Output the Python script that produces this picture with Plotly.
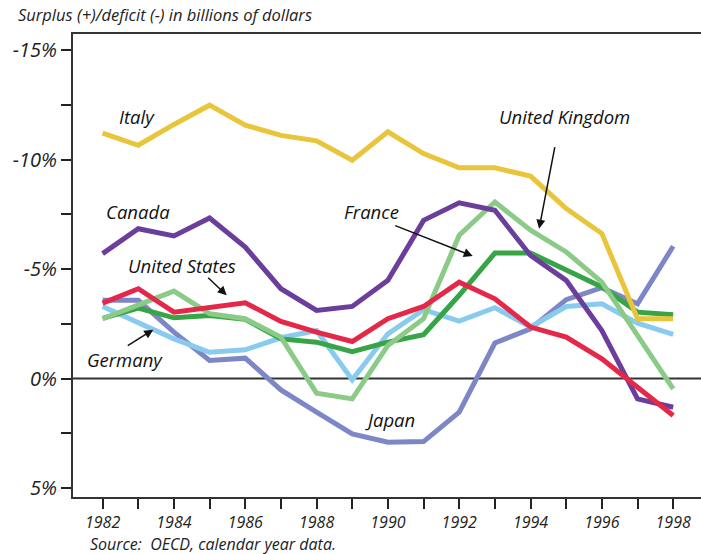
import plotly.graph_objects as go

years = list(range(1982, 1999))

italy   = [-11.2, -10.65, -11.6, -12.48, -11.57, -11.1, -10.85, -9.97, -11.26, -10.27, -9.62, -9.62, -9.24, -7.76, -6.62, -2.73, -2.73]
canada  = [-5.70, -6.84, -6.51, -7.33, -6.0, -4.10, -3.11, -3.29, -4.48, -7.22, -8.02, -7.68, -5.62, -4.48, -2.19, 0.93, 1.31]
usa     = [-3.44, -4.10, -3.03, -3.26, -3.46, -2.61, -2.12, -1.69, -2.73, -3.29, -4.40, -3.64, -2.35, -1.89, -0.90, 0.40, 1.69]
france  = [-2.75, -3.22, -2.77, -2.88, -2.70, -1.81, -1.66, -1.23, -1.66, -2.0, -3.80, -5.73, -5.73, -4.94, -4.18, -3.03, -2.91]
uk      = [-2.73, -3.37, -3.99, -2.96, -2.73, -1.89, 0.67, 0.93, -1.51, -2.73, -6.54, -8.06, -6.77, -5.78, -4.40, -1.97, 0.47]
germany = [-3.29, -2.58, -1.81, -1.20, -1.31, -1.86, -2.19, 0.06, -2.04, -3.14, -2.62, -3.23, -2.35, -3.29, -3.41, -2.53, -2.01]
japan   = [-3.57, -3.57, -2.12, -0.82, -0.93, 0.52, 1.54, 2.53, 2.91, 2.88, 1.54, -1.62, -2.27, -3.60, -4.15, -3.41, -6.04]

ytick_vals = [-15, -10, -5, 0, 5]
ytick_text = ["-15%", "-10%", "-5%", "0%", "5%"]
xtick_vals = list(range(1982, 1999, 2))
xtick_text = [str(v) for v in xtick_vals]

series = [
    ("Japan", japan, "#7E87C5"),
    ("Germany", germany, "#88CBEE"),
    ("France", france, "#37A546"),
    ("United Kingdom", uk, "#8BCB87"),
    ("Canada", canada, "#6B3E9C"),
    ("Italy", italy, "#E9C53C"),
    ("United States", usa, "#E3284A"),
]

FONT = "Open Sans"

fig = go.Figure()
for name, vals, col in series:
    fig.add_trace(go.Scatter(x=years, y=vals, mode="lines", name=name,
                             line=dict(color=col, width=5), showlegend=False))

fig.add_hline(y=0, line=dict(color="#333333", width=2), layer="below")

labels = [
    ("Italy", 1982.96, -11.95),
    ("Canada", 1982.99, -7.62),
    ("United States", 1984.24, -5.17),
    ("Germany", 1982.63, -0.85),
    ("France", 1989.54, -7.62),
    ("United Kingdom", 1994.95, -11.95),
    ("Japan", 1990.07, 1.85),
]
for txt, x, y in labels:
    fig.add_annotation(x=x, y=y, text="<i>%s</i>" % txt, showarrow=False,
                       font=dict(family=FONT, size=18.5, color="#111111"))

arrows = [
    (1985.48, -3.80, -20, -19),
    (1983.42, -2.23, -27, 17),
    (1992.38, -5.59, -79, -31),
    (1994.24, -6.84, 16, -83),
]
for x, y, ax, ay in arrows:
    fig.add_annotation(x=x, y=y, ax=ax, ay=ay, text="", showarrow=True,
                       arrowhead=2, arrowsize=1.2, arrowwidth=1.5,
                       arrowcolor="#111111", standoff=0, startstandoff=0)

fig.add_annotation(xref="paper", yref="paper", x=-0.09, y=1.012,
                   xanchor="left", yanchor="bottom", showarrow=False,
                   text="<i>Surplus (+)/deficit (-) in billions of dollars</i>",
                   font=dict(family=FONT, size=16.5, color="#222222"))
fig.add_annotation(xref="paper", yref="paper", x=0.024, y=-0.102,
                   xanchor="left", yanchor="middle", showarrow=False,
                   text="<i>Source:  OECD, calendar year data.</i>",
                   font=dict(family=FONT, size=16, color="#222222"))

fig.update_layout(
    width=701, height=554,
    margin=dict(l=73, r=0, t=34, b=57),
    paper_bgcolor="white", plot_bgcolor="white",
    font=dict(family=FONT, color="#222222"),
)
fig.update_xaxes(range=[1981.17, 1998.78], showgrid=False, zeroline=False, automargin=False,
                 showline=True, linecolor="#333333", linewidth=2, mirror=True,
                 ticks="outside", ticklen=10, tickwidth=1.5, tickcolor="#222222",
                 tickvals=xtick_vals, ticktext=["<i>%s</i>" % t for t in xtick_text],
                 tickfont=dict(family=FONT, size=16, color="#222222"),
                 minor=dict(ticks="outside", ticklen=10, tickwidth=1.5, tickcolor="#222222", dtick=1, tick0=1982))
fig.update_yaxes(range=[5.41, -15.73], showgrid=False, zeroline=False, automargin=False,
                 showline=True, linecolor="#333333", linewidth=2,
                 ticks="outside", ticklen=10, tickwidth=1.5, tickcolor="#222222",
                 tickvals=ytick_vals, ticktext=["<i>%s</i>" % t for t in ytick_text],
                 tickfont=dict(family=FONT, size=20, color="#222222"),
                 minor=dict(ticks="outside", ticklen=10, tickwidth=1.5, tickcolor="#222222", dtick=2.5, tick0=0))

fig.write_html("out.html", config={"displayModeBar": False},
               post_script="document.body.style.margin='0px';document.body.style.overflow='hidden';")
